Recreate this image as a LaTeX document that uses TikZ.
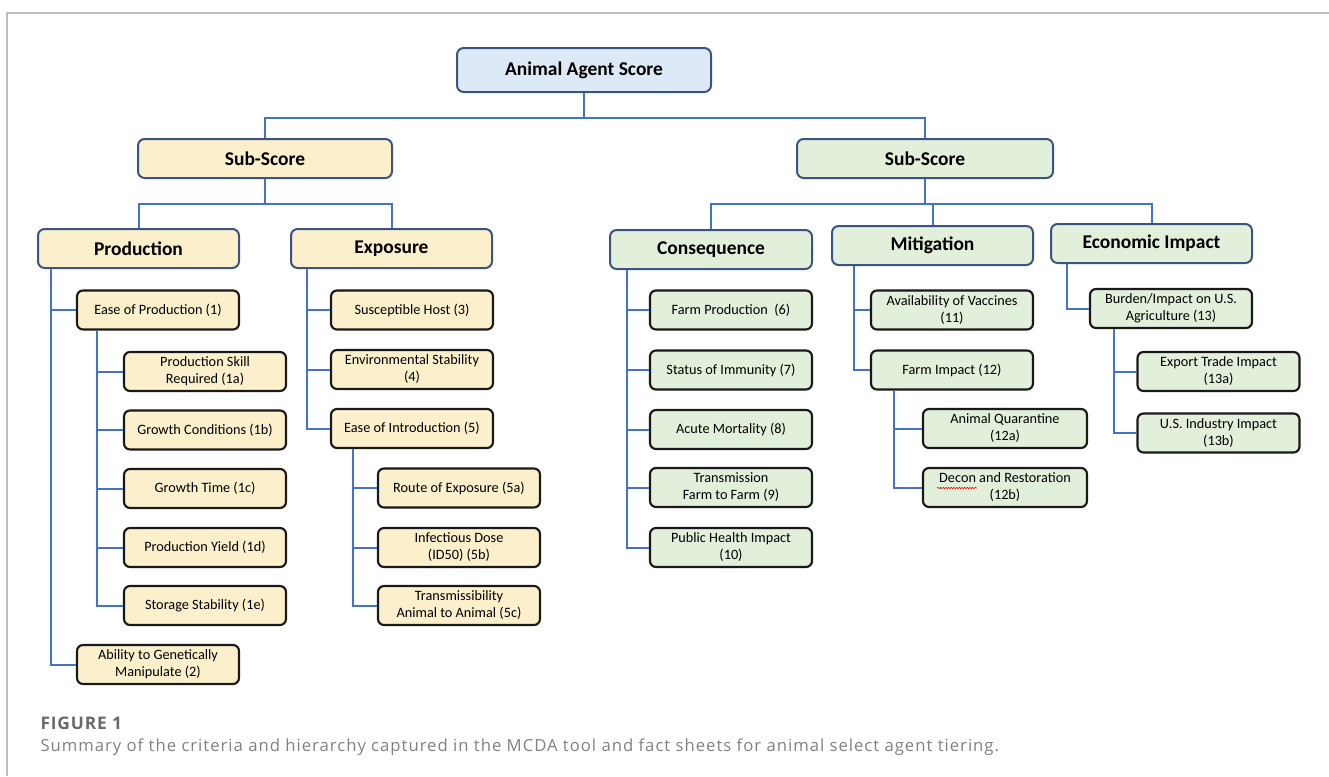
\documentclass[tikz,border=0pt]{standalone}
\usepackage{fontspec}
\setmainfont{Carlito}
\newfontfamily\capfont[LetterSpace=6]{Open Sans}
\newfontfamily\figfont[LetterSpace=5]{Open Sans}
\usetikzlibrary{calc,decorations.pathmorphing}

\tikzset{every picture/.style={line width=0.75pt}}
\tikzset{
  boxsize/.style 2 args={minimum width=#1*0.75pt, minimum height=#2*0.75pt},
  head/.style={draw={rgb, 255:red, 58; green, 84; blue, 128}, line width=1.5pt, rounded corners=5pt, inner sep=0pt, font=\bfseries\fontsize{14.6}{17}\selectfont},
  leaf/.style={draw={rgb, 255:red, 25; green, 25; blue, 25}, line width=1.6pt, rounded corners=4.5pt, inner sep=0pt, align=center, boxsize={162}{39}, font=\fontsize{10.7}{12.75}\selectfont},
  bluebox/.style={fill={rgb, 255:red, 222; green, 233; blue, 247}},
  yellowbox/.style={fill={rgb, 255:red, 252; green, 239; blue, 204}},
  greenbox/.style={fill={rgb, 255:red, 226; green, 239; blue, 218}},
  link/.style={draw={rgb, 255:red, 68; green, 114; blue, 196}, line width=1.5pt},
}

\begin{document}
\begin{tikzpicture}[x=0.75pt,y=0.75pt,yscale=-1,xscale=1]
\useasboundingbox (0,0) rectangle (1329,776);

%Frame
\draw [draw={rgb, 255:red, 190; green, 190; blue, 190}, line width=1.2pt] (7,776) -- (7,13) -- (1329,13);

%Top levels
\node [head, bluebox, boxsize={254}{44}] (agent) at (584,70) {Animal Agent Score};
\node [head, yellowbox, boxsize={254}{39}] (subL) at (265,158.5) {Sub-Score};
\node [head, greenbox, boxsize={256}{39}] (subR) at (925,158.5) {Sub-Score};

\node [head, yellowbox, boxsize={201}{39}] (prod) at (138.5,248.5) {Production};
\node [head, yellowbox, boxsize={201}{39}] (expo) at (391.5,248.5) {Exposure};
\node [head, greenbox, boxsize={202}{39}] (cons) at (711,249.5) {Consequence};
\node [head, greenbox, boxsize={201}{39}] (miti) at (932.5,245.5) {Mitigation};
\node [head, greenbox, boxsize={201}{39}] (econ) at (1151.5,243.5) {Economic Impact};

%Production
\node [leaf, yellowbox] (ease) at (158,310) {Ease of Production (1)};
\node [leaf, yellowbox] (skill) at (205,371.5) {Production Skill\\Required (1a)};
\node [leaf, yellowbox] (cond) at (205,430) {Growth Conditions (1b)};
\node [leaf, yellowbox] (gtime) at (205,488.5) {Growth Time (1c)};
\node [leaf, yellowbox] (yield) at (205,547.5) {Production Yield (1d)};
\node [leaf, yellowbox] (store) at (205,605.5) {Storage Stability (1e)};
\node [leaf, yellowbox] (abil) at (158,664.5) {Ability to Genetically\\Manipulate (2)};

%Exposure
\node [leaf, yellowbox] (host) at (412,310) {Susceptible Host (3)};
\node [leaf, yellowbox] (envst) at (412,369.5) {Environmental Stability\\(4)};
\node [leaf, yellowbox] (intro) at (412,428.5) {Ease of Introduction (5)};
\node [leaf, yellowbox] (route) at (459,488) {Route of Exposure (5a)};
\node [leaf, yellowbox] (dose) at (459,547.5) {Infectious Dose\\(ID50) (5b)};
\node [leaf, yellowbox] (trans) at (459,605.5) {Transmissibility\\Animal to Animal (5c)};

%Consequence
\node [leaf, greenbox] (farmp) at (731,310) {Farm Production~ (6)};
\node [leaf, greenbox] (immu) at (731,370) {Status of Immunity (7)};
\node [leaf, greenbox] (mort) at (731,429.5) {Acute Mortality (8)};
\node [leaf, greenbox] (ftf) at (731,487.5) {Transmission\\Farm to Farm (9)};
\node [leaf, greenbox] (health) at (731,547.5) {Public Health Impact\\(10)};

%Mitigation
\node [leaf, greenbox] (vacc) at (952,310) {Availability of Vaccines\\(11)};
\node [leaf, greenbox] (fimp) at (952,370) {Farm Impact (12)};
\node [leaf, greenbox, boxsize={164}{39}] (quar) at (1005,428.5) {Animal Quarantine\\(12a)};
\node [leaf, greenbox, boxsize={164}{39}] (decon) at (1005,487.5) {Decon and Restoration\\(12b)};
\draw [red, line width=0.45pt, decorate, decoration={snake, amplitude=0.5pt, segment length=2pt}] ($(decon.center)+(-68,0.5)$) -- ($(decon.center)+(-28,0.5)$);

%Economic Impact
\node [leaf, greenbox] (burden) at (1171,308.5) {Burden/Impact on U.S.\\Agriculture (13)};
\node [leaf, greenbox] (export) at (1218.5,371.5) {Export Trade Impact\\(13a)};
\node [leaf, greenbox] (indus) at (1218.5,433) {U.S. Industry Impact\\(13b)};

%Connectors
\coordinate (busT) at (584,118);
\coordinate (busL) at (265,204);
\coordinate (busR) at (925,204);
\draw [link] (agent.south) -- (busT);
\draw [link] (subL.north) |- (busT) -| (subR.north);
\draw [link] (subL.south) -- (busL);
\draw [link] (prod.north) |- (busL) -| (expo.north);
\draw [link] (subR.south) -- (busR);
\draw [link] (cons.north) |- (busR) -| (econ.north);
\draw [link] (busR -| miti.north) -- (miti.north);

\foreach \kid in {ease,abil} \draw [link] ($(prod.south west)+(14,0)$) |- (\kid.west);
\foreach \kid in {skill,cond,gtime,yield,store} \draw [link] ($(ease.south west)+(21,0)$) |- (\kid.west);
\foreach \kid in {host,envst,intro} \draw [link] ($(expo.south west)+(17,0)$) |- (\kid.west);
\foreach \kid in {route,dose,trans} \draw [link] ($(intro.south west)+(23,0)$) |- (\kid.west);
\foreach \kid in {farmp,immu,mort,ftf,health} \draw [link] ($(cons.south west)+(18,0)$) |- (\kid.west);
\foreach \kid in {vacc,fimp} \draw [link] ($(miti.south west)+(23,0)$) |- (\kid.west);
\foreach \kid in {quar,decon} \draw [link] ($(fimp.south west)+(24,0)$) |- (\kid.west);
\draw [link] ($(econ.south west)+(17,0)$) |- (burden.west);
\foreach \kid in {export,indus} \draw [link] ($(burden.south west)+(25,0)$) |- (\kid.west);

% Caption
\node [anchor=base west, inner sep=0pt, font=\figfont\bfseries\fontsize{13}{15}\selectfont, text={rgb, 255:red, 105; green, 105; blue, 105}] (fig) at (40,729) {FIGURE 1};
\node [anchor=base west, inner sep=0pt, font=\capfont\fontsize{12.5}{14}\selectfont, text={rgb, 255:red, 128; green, 128; blue, 128}] (cap) at (40,751) {Summary of the criteria and hierarchy captured in the MCDA tool and fact sheets for animal select agent tiering.};

\end{tikzpicture}
\end{document}
